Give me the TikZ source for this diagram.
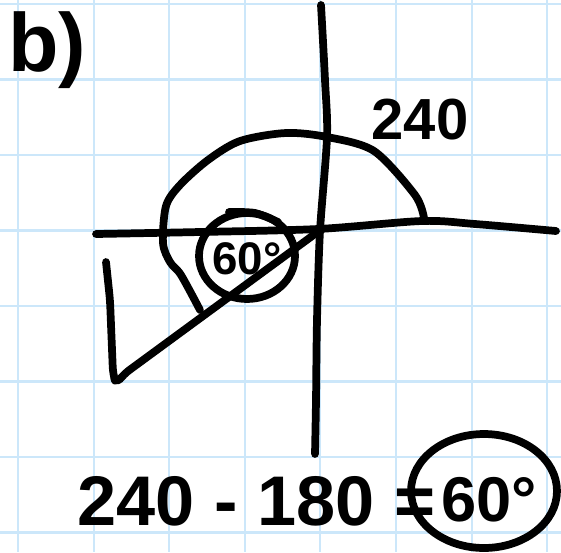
\documentclass[tikz,border=0pt]{standalone}
\usepackage{fontspec}
\setmainfont{Liberation Sans}
\usetikzlibrary{positioning}
\definecolor{gridblue}{RGB}{204,231,250}
\tikzset{every picture/.style={line width=0.75pt}}
\tikzset{
  gridln/.style ={gridblue, line width=1.2pt},
  pen/.style    ={black, line width=4.4pt, line cap=round, line join=round},
  hand/.style   ={inner sep=0pt, text=black, font=\bfseries},
}

\begin{document}
\begin{tikzpicture}[x=0.02cm, y=-0.02cm]
        \useasboundingbox (0,0) rectangle (561,552);
        \fill[white] (0,0) rectangle (561,552);
        % grid paper
        \foreach \k in {0,...,7} {
            \draw[gridln] ({18+75.6*\k},0) -- ({18+75.6*\k},552);
            \draw[gridln] (0,{4+75.5*\k}) -- (561,{4+75.5*\k});
        }
        % axes
        \coordinate (O) at (319,231);
        \draw[pen] plot[smooth] coordinates {(321,5) (325,80) (327,137) (320,231) (317,320) (316,400) (315,454)};
        \draw[pen] plot[smooth] coordinates {(96,234) (200,232) (318,229) (422,221) (475,224) (556,231)};
        % 240 degree arc
        \draw[pen] plot[smooth] coordinates {(424,218) (415,195) (374,151) (327,137) (286,133) (240,141) (208,160) (180,185) (166,206) (163,243) (170,262) (181,275) (200,310)};
        % terminal side and its triangle
        \draw[pen, rounded corners=4pt] (O) -- (124,374) -- (116,384) -- (113,374) -- (110,300) -- (106,262);
        % reference angle
        \draw[pen] (247,256) ellipse [x radius=0.96cm, y radius=0.86cm];
        \draw[pen] plot[smooth] coordinates {(229,212) (255,213) (278,222)};
        \node[hand, font=\bfseries\fontsize{26}{26}\selectfont] (ang) at (247,259) {60°};
        \node[hand, font=\bfseries\fontsize{47}{47}\selectfont] (lblb) at (47,50) {b)};
        \node[hand, font=\bfseries\fontsize{33}{33}\selectfont] (lbl240) at (420,120) {240};
        % working
        \node[hand, anchor=base west, font=\bfseries\fontsize{40}{40}\selectfont] (calc) at (77,525) {240 - 180 =};
        \node[hand, anchor=base, font=\bfseries\fontsize{36}{36}\selectfont] (res) at (489,521) {60°};
        \draw[pen] (484,491) ellipse [x radius=1.46cm, y radius=1.14cm];
    \end{tikzpicture}
\end{document}
